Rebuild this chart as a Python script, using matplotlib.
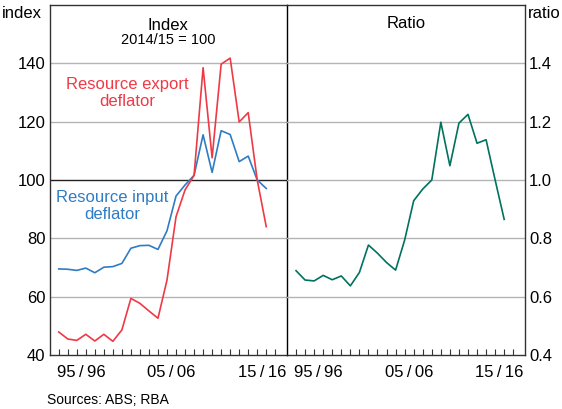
import matplotlib
matplotlib.use("Agg")
from matplotlib import pyplot as plt
import numpy as np

plt.rcParams.update({
    "font.family": ["Liberation Sans", "DejaVu Sans"],
    "font.size": 12,
})

# financial years, plotted at year end (June of the given year)
years = list(range(1993, 2017))

export_deflator = [47.9, 45.5, 45.0, 47.1, 44.8, 47.1, 44.7, 48.6, 59.4, 57.7,
                   55.1, 52.6, 65.7, 87.4, 96.6, 101.6, 138.5, 107.6, 139.7, 141.8,
                   119.9, 123.1, 100.0, 84.0]
input_deflator = [69.5, 69.4, 69.0, 69.8, 68.2, 70.1, 70.3, 71.4, 76.6, 77.5,
                  77.6, 76.2, 82.6, 94.5, 98.3, 101.6, 115.5, 102.6, 116.9, 115.6,
                  106.3, 108.2, 100.0, 97.1]
ratio = [0.689, 0.657, 0.654, 0.673, 0.658, 0.671, 0.637, 0.683, 0.777, 0.749,
         0.717, 0.691, 0.794, 0.929, 0.969, 1.000, 1.198, 1.049, 1.195, 1.225,
         1.126, 1.138, 1.000, 0.865]

xtick_pos = [1995.5, 2005.5, 2015.5]
xtick_labels = ["95\u2009/\u200996", "05\u2009/\u200906", "15\u2009/\u200916"]

RED = "#ee3a46"
BLUE = "#2f7cc4"
GREEN = "#00725e"
GRID = "#b4b4b4"

W, H = 562, 409
fig = plt.figure(figsize=(W / 100, H / 100), dpi=100)
x0, xm, x1 = 49.7, 287.0, 525.0
ytop, ybot = 5.0, 355.0
ax1 = fig.add_axes([x0 / W, (H - ybot) / H, (xm - x0) / W, (ybot - ytop) / H])
ax2 = fig.add_axes([xm / W, (H - ybot) / H, (x1 - xm) / W, (ybot - ytop) / H])
ax2.patch.set_visible(False)

for ax in (ax1, ax2):
    ax.set_xlim(1992, 2018.3)
    ax.set_xticks(xtick_pos)
    ax.set_xticklabels(xtick_labels)
    ax.set_xticks(np.arange(1993, 2018), minor=True)
    ax.tick_params(axis="x", which="major", length=0, pad=7, labelsize=12)
    ax.tick_params(axis="x", which="minor", direction="in", length=4,
                   width=0.8, color="#333333")
    ax.tick_params(axis="y", length=0, labelsize=12)
    for s in ax.spines.values():
        s.set_color("#333333")
        s.set_linewidth(1.0)

# left panel
ax1.set_ylim(40, 160)
ax1.set_yticks([40, 60, 80, 100, 120, 140])
ax1.tick_params(axis="y", pad=3)
for v in [60, 80, 120, 140]:
    ax1.axhline(v, color=GRID, lw=1.0, zorder=0)
ax1.axhline(100, color="#222222", lw=1.0, zorder=1)
ax1.plot(years, input_deflator, color=BLUE, lw=1.2, zorder=3)
ax1.plot(years, export_deflator, color=RED, lw=1.2, zorder=3)
ax1.spines["right"].set_color("black")
ax1.spines["right"].set_zorder(5)
ax1.text(0.5, 1 - 20 / 350, "Index", transform=ax1.transAxes, ha="center",
         va="center", fontsize=12)
ax1.text(0.5, 1 - 35 / 350, "2014/15 = 100", transform=ax1.transAxes,
         ha="center", va="center", fontsize=10.5)
ax1.text(2000.6, 129.8, "Resource export\ndeflator", color=RED, ha="center",
         va="center", fontsize=12, linespacing=1.1)
ax1.text(1998.9, 91.1, "Resource input\ndeflator", color=BLUE, ha="center",
         va="center", fontsize=12, linespacing=1.1)

# right panel
ax2.set_ylim(0.4, 1.6)
ax2.set_yticks([0.4, 0.6, 0.8, 1.0, 1.2, 1.4])
ax2.set_yticklabels(["0.4", "0.6", "0.8", "1.0", "1.2", "1.4"])
ax2.yaxis.tick_right()
ax2.tick_params(axis="y", pad=3)
for v in [0.6, 0.8, 1.0, 1.2, 1.4]:
    ax2.axhline(v, color=GRID, lw=1.0, zorder=0)
ax2.plot(years, ratio, color=GREEN, lw=1.2, zorder=3)
ax2.spines["left"].set_visible(False)
ax2.text(0.5, 1 - 18 / 350, "Ratio", transform=ax2.transAxes, ha="center",
         va="center", fontsize=12)

fig.text(2 / W, 1 - 14 / H, "index", ha="left", va="center", fontsize=12)
fig.text(561 / W, 1 - 14 / H, "ratio", ha="right", va="center", fontsize=12)
fig.text(47 / W, 1 - 400 / H, "Sources: ABS; RBA", ha="left", va="center",
         fontsize=10)

fig.savefig("out.png", dpi=100)
